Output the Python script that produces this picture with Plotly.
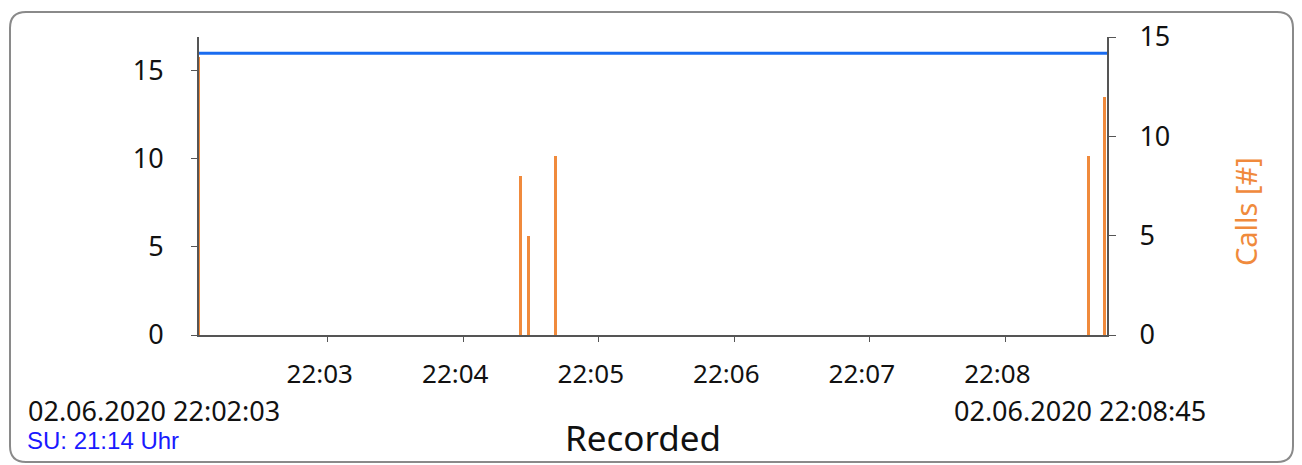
import plotly.graph_objects as go

# Recording window
t_start = "2020-06-02 22:02:03"
t_end = "2020-06-02 22:08:45"

# Level series (left axis)
level_times = [t_start, t_end]
level_values = [16, 16]

# Calls per event (right axis)
call_times = [
    "2020-06-02 22:02:03",
    "2020-06-02 22:04:25.5",
    "2020-06-02 22:04:29",
    "2020-06-02 22:04:41",
    "2020-06-02 22:08:37",
    "2020-06-02 22:08:44",
]
call_values = [14, 8, 5, 9, 9, 12]

x_tickvals = [
    "2020-06-02 22:03:00", "2020-06-02 22:04:00", "2020-06-02 22:05:00",
    "2020-06-02 22:06:00", "2020-06-02 22:07:00", "2020-06-02 22:08:00",
]
x_ticktext = ["22:03", "22:04", "22:05", "22:06", "22:07", "22:08"]

W, H = 1302, 465
L, R, T, B = 199, 1107, 37, 335
FONT = "Noto Sans"
ORANGE = "#f08a3c"
AXIS = "#555555"


def px(x):
    return (x - L) / (R - L)


def py(y):
    return (B - y) / (B - T)


fig = go.Figure()

fig.add_trace(go.Bar(
    x=call_times, y=call_values, yaxis="y2",
    width=1300, marker=dict(color=ORANGE, line=dict(width=0)),
    hoverinfo="x+y", showlegend=False,
))

fig.add_trace(go.Scatter(
    x=level_times, y=level_values, mode="lines",
    line=dict(color="#1a6cf0", width=3), showlegend=False,
))

fig.update_layout(
    width=W, height=H,
    margin=dict(l=L, r=W - R, t=T, b=H - B, pad=0),
    paper_bgcolor="white", plot_bgcolor="white",
    font=dict(family=FONT, size=27, color="#111111"),
    xaxis=dict(
        type="date", range=[t_start, t_end],
        tickvals=x_tickvals, ticktext=x_ticktext,
        showgrid=False, zeroline=False,
        showline=True, linecolor=AXIS, linewidth=2,
        ticks="outside", ticklen=5, tickcolor=AXIS, tickwidth=1,
        ticklabelstandoff=10, ticklabelshift=-8,
        tickfont=dict(size=26),
    ),
    yaxis=dict(
        range=[0, 16.93], tickvals=[0, 5, 10, 15],
        showgrid=False, zeroline=False,
        showline=True, linecolor=AXIS, linewidth=2,
        ticks="outside", ticklen=6, tickcolor=AXIS,
        ticklabelstandoff=22,
        tickfont=dict(size=27),
    ),
    yaxis2=dict(
        range=[0, 15.001], tickvals=[0, 5, 10, 15],
        overlaying="y", side="right", anchor="x",
        showgrid=False, zeroline=False,
        showline=True, linecolor=AXIS, linewidth=2,
        ticks="outside", ticklen=7, tickcolor=AXIS,
        ticklabelstandoff=18,
        tickfont=dict(size=27),
    ),
    bargap=0,
)

# Rounded frame around the panel
x0, x1, y0, y1, r = 10, 1293, 12, 462, 16
path = (
    f"M {px(x0 + r)},{py(y0)} L {px(x1 - r)},{py(y0)} "
    f"Q {px(x1)},{py(y0)} {px(x1)},{py(y0 + r)} "
    f"L {px(x1)},{py(y1 - r)} Q {px(x1)},{py(y1)} {px(x1 - r)},{py(y1)} "
    f"L {px(x0 + r)},{py(y1)} Q {px(x0)},{py(y1)} {px(x0)},{py(y1 - r)} "
    f"L {px(x0)},{py(y0 + r)} Q {px(x0)},{py(y0)} {px(x0 + r)},{py(y0)} Z"
)
fig.add_shape(type="path", path=path, xref="paper", yref="paper",
              line=dict(color="#8a8a8a", width=2), layer="below")

annotations = [
    dict(text="02.06.2020 22:02:03", x=px(26), y=py(410), xanchor="left",
         yanchor="middle", font=dict(size=27, color="#111111")),
    dict(text="SU: 21:14 Uhr", x=px(25), y=py(440), xanchor="left",
         yanchor="middle",
         font=dict(family="Liberation Sans", size=24, color="#1a1aff")),
    dict(text="02.06.2020 22:08:45", x=px(1208), y=py(410), xanchor="right",
         yanchor="middle", font=dict(size=27, color="#111111")),
    dict(text="Recorded", x=px(643), y=py(437), xanchor="center",
         yanchor="middle", font=dict(size=35, color="#111111")),
    dict(text="Calls [#]", x=px(1245), y=py(212), xanchor="center",
         yanchor="middle", textangle=-90, font=dict(size=29, color=ORANGE)),
]
for a in annotations:
    fig.add_annotation(xref="paper", yref="paper", showarrow=False, **a)

fig.write_html("out.html")
